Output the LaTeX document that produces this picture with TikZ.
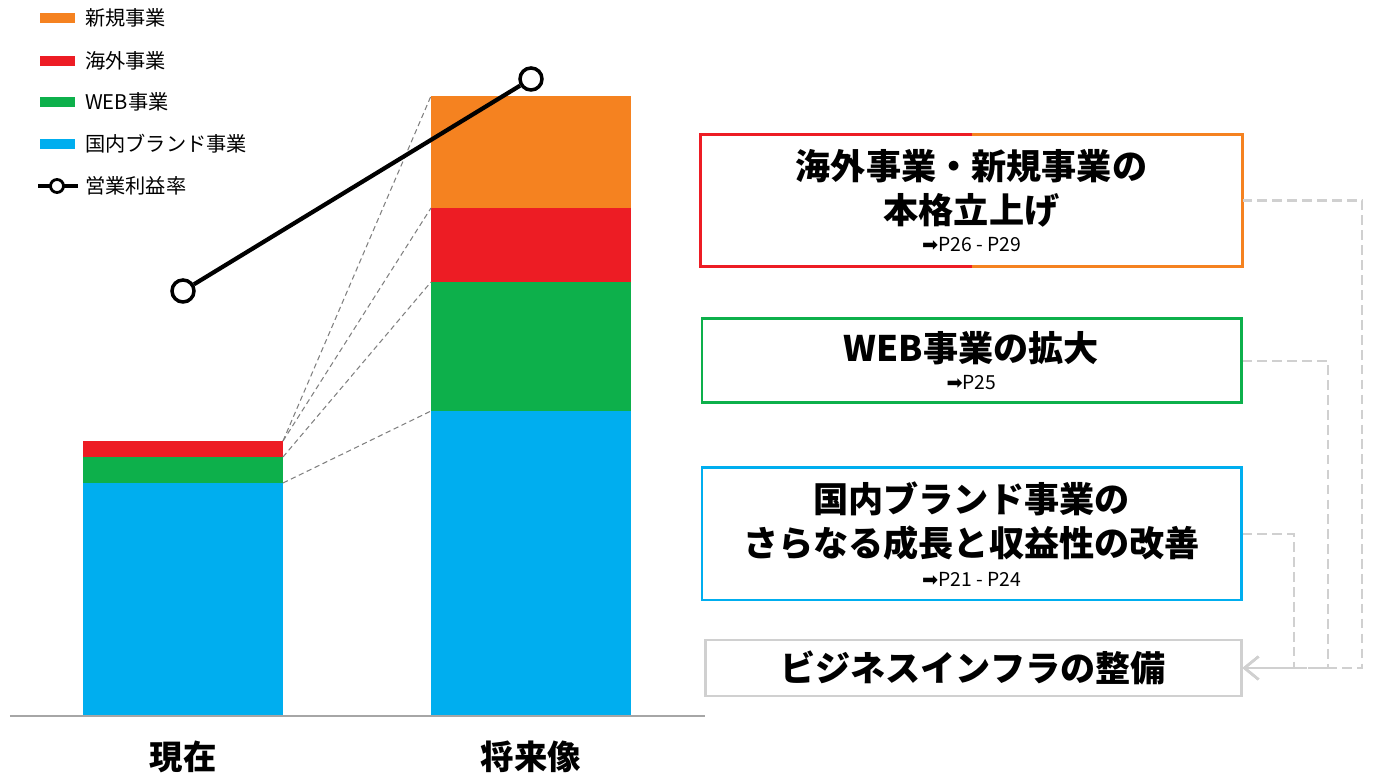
\documentclass[tikz,border=0pt]{standalone}
\usepackage{fontspec}
\setmainfont{Noto Sans CJK JP}
\newfontfamily\symfont{DejaVu Sans}
\usetikzlibrary{arrows.meta}
\definecolor{Seg-orange}{RGB}{245,130,32}
\definecolor{Seg-red}{RGB}{237,28,36}
\definecolor{Seg-green}{RGB}{13,176,75}
\definecolor{Seg-blue}{RGB}{0,174,239}
\definecolor{Infra-gray}{RGB}{208,208,208}
\newcommand{\refarrow}{{\symfont ➡}}

\begin{document}
\begin{tikzpicture}[
    goalbox/.style={minimum width=10.78cm, align=center, line width=1.7pt, font=\bfseries\fontsize{20}{25}\selectfont},
    legendtext/.style={anchor=west, font=\fontsize{11.5}{13}\selectfont},
    ratedot/.style={circle, draw=black, fill=white, line width=2pt, inner sep=0pt, minimum size=0.44cm},
    rateline/.style={line width=2.4pt},
    guide/.style={draw=gray, line width=0.6pt, dash pattern=on 3pt off 2pt},
    infralink/.style={draw=Infra-gray, line width=1.4pt, dash pattern=on 5.5pt off 3pt, -{Straight Barb[length=8pt, width=13pt, line width=1.4pt]}}]
    \useasboundingbox (0, 0) rectangle (27.5, 15.56);

    % legend
    \fill[Seg-orange] (0.80, 15.10) rectangle (1.50, 15.30);
    \fill[Seg-red]    (0.80, 14.24) rectangle (1.50, 14.44);
    \fill[Seg-green]  (0.80, 13.42) rectangle (1.50, 13.62);
    \fill[Seg-blue]   (0.80, 12.58) rectangle (1.50, 12.78);
    \node[legendtext] (lg_new)   at (1.58, 15.20) {新規事業};
    \node[legendtext] (lg_intl)  at (1.58, 14.34) {海外事業};
    \node[legendtext] (lg_web)   at (1.58, 13.52) {WEB事業};
    \node[legendtext] (lg_brand) at (1.58, 12.68) {国内ブランド事業};
    \draw[rateline] (0.76, 11.84) -- (1.56, 11.84);
    \node[ratedot, minimum size=0.26cm, line width=1.6pt] (lg_dot) at (1.14, 11.84) {};
    \node[legendtext] (lg_rate)  at (1.58, 11.84) {営業利益率};

    % bars
    \fill[Seg-blue]   (1.66, 1.24) rectangle (5.66, 5.90);
    \fill[Seg-green]  (1.66, 5.90) rectangle (5.66, 6.42);
    \fill[Seg-red]    (1.66, 6.42) rectangle (5.66, 6.74);

    \fill[Seg-blue]   (8.62, 1.24)  rectangle (12.62, 7.34);
    \fill[Seg-green]  (8.62, 7.34)  rectangle (12.62, 9.92);
    \fill[Seg-red]    (8.62, 9.92)  rectangle (12.62, 11.40);
    \fill[Seg-orange] (8.62, 11.40) rectangle (12.62, 13.64);

    \coordinate (now_blue)  at (5.66, 5.90);
    \coordinate (now_green) at (5.66, 6.42);
    \coordinate (now_red)   at (5.66, 6.74);
    \coordinate (fut_blue)   at (8.62, 7.34);
    \coordinate (fut_green)  at (8.62, 9.92);
    \coordinate (fut_red)    at (8.62, 11.40);
    \coordinate (fut_orange) at (8.62, 13.64);

    \draw[guide] (now_blue)  -- (fut_blue);
    \draw[guide] (now_green) -- (fut_green);
    \draw[guide] (now_red)   -- (fut_red);
    \draw[guide] (now_red)   -- (fut_orange);

    \draw[draw=gray!70, line width=0.8pt] (0.2, 1.24) -- (14.1, 1.24);

    \node[font=\bfseries\fontsize{19}{22}\selectfont] (lbl_now) at (3.66, 0.42)  {現在};
    \node[font=\bfseries\fontsize{19}{22}\selectfont] (lbl_fut) at (10.62, 0.42) {将来像};

    % operating margin
    \node[ratedot] (rate_now) at (3.66, 9.74)  {};
    \node[ratedot] (rate_fut) at (10.62, 13.98) {};
    \draw[rateline] (rate_now) -- (rate_fut);

    % goal boxes
    \node[goalbox, minimum height=2.58cm] (box1) at (19.43, 11.55) {海外事業・新規事業の\\本格立上げ\\[-9pt]{\mdseries\fontsize{11}{13}\selectfont\refarrow P26 - P29}};
    \draw[Seg-red, line width=1.7pt]    (box1.north) -| (box1.west) |- (box1.south);
    \draw[Seg-orange, line width=1.7pt] (box1.north) -| (box1.east) |- (box1.south);

    \node[goalbox, draw=Seg-green, minimum height=1.68cm] (box2) at (19.43, 8.34) {WEB事業の拡大\\[-9pt]{\mdseries\fontsize{11}{13}\selectfont\refarrow P25}};

    \node[goalbox, draw=Seg-blue, minimum height=2.64cm] (box3) at (19.43, 4.88) {国内ブランド事業の\\さらなる成長と収益性の改善\\[-8pt]{\mdseries\fontsize{11}{13}\selectfont\refarrow P21 - P24}};

    \node[goalbox, draw=Infra-gray, minimum width=10.72cm, minimum height=1.12cm] (box4) at (19.46, 2.20) {ビジネスインフラの整備};

    \draw[infralink] (box1.east) -- (27.24, 11.55) |- (box4.east);
    \draw[infralink] (box2.east) -- (26.56, 8.34)  |- (box4.east);
    \draw[infralink] (box3.east) -- (25.88, 4.88)  |- (box4.east);
  \end{tikzpicture}
\end{document}
